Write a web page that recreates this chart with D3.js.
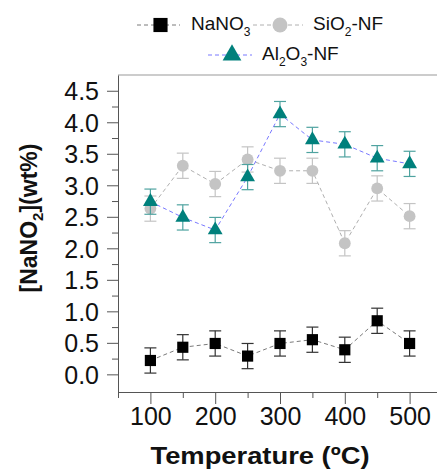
<!DOCTYPE html>
<html>
<head>
<meta charset="utf-8">
<script src="https://cdn.jsdelivr.net/npm/d3@7"></script>
<style>
    body { margin: 0; background: #fff; }
    svg { display: block; font-family: Arial, "Liberation Sans", sans-serif; }
    .axis text { font-size: 25px; fill: #111; }
    .axis path, .axis line { stroke: #555; }
</style>
</head>
<body>
<svg id="chart" width="437" height="470"></svg>
<script>
/*------------------- data --------------------*/
const temperatures = [100, 150, 200, 250, 300, 350, 400, 450, 500];
const nano3 = [0.22, 0.43, 0.49, 0.29, 0.49, 0.55, 0.39, 0.85, 0.49];
const sio2 = [2.63, 3.31, 3.02, 3.41, 3.23, 3.23, 2.08, 2.95, 2.51];
const al2o3 = [2.74, 2.49, 2.29, 3.13, 4.13, 3.72, 3.65, 3.43, 3.34];
const errNano3 = [0.2, 0.2, 0.2, 0.2, 0.2, 0.2, 0.2, 0.2, 0.2];
const errSio2 = [0.2, 0.2, 0.2, 0.2, 0.2, 0.2, 0.2, 0.2, 0.2];
const errAl2o3 = [0.2, 0.2, 0.2, 0.2, 0.2, 0.2, 0.2, 0.2, 0.2];

const xTicks = [100, 200, 300, 400, 500];
const xMinor = [50, 150, 250, 350, 450];
const yTicks = [0, 0.5, 1, 1.5, 2, 2.5, 3, 3.5, 4, 4.5];
const yMinor = [0.25, 0.75, 1.25, 1.75, 2.25, 2.75, 3.25, 3.75, 4.25];

/*------------------- setup --------------------*/
const svg = d3.select("#chart");

const x = d3.scaleLinear().domain([50, 550]).range([118, 442]);
const y = d3.scaleLinear().domain([-0.28, 4.75]).range([392, 75]);

const series = [
    { name: "NaNO3", values: nano3, err: errNano3, shape: d3.symbolSquare, size: 125, fill: "#000",
      line: "#7a7a7a", errColor: "#333" },
    { name: "SiO2", values: sio2, err: errSio2, shape: d3.symbolCircle, size: 110, fill: "#c4c4c4",
      line: "#b0b0b0", errColor: "#c4c4c4" },
    { name: "Al2O3", values: al2o3, err: errAl2o3, shape: d3.symbolTriangle, size: 95, fill: "#00807c",
      line: "#7878ff", errColor: "#4fa3a0" }
];

// frame top line
svg.append("line")
    .attr("x1", x(50)).attr("x2", x(550))
    .attr("y1", y(4.75)).attr("y2", y(4.75))
    .attr("stroke", "#999").attr("stroke-width", 1);

// minor ticks first
svg.append("g")
    .attr("class", "axis")
    .attr("transform", "translate(0," + y(-0.28) + ")")
    .call(d3.axisBottom(x).tickValues(xMinor).tickSize(6).tickFormat(""))
    .call(g => g.select(".domain").remove());

svg.append("g")
    .attr("class", "axis")
    .attr("transform", "translate(" + x(50) + ",0)")
    .call(d3.axisLeft(y).tickValues(yMinor).tickSize(6).tickFormat(""))
    .call(g => g.select(".domain").remove());

svg.append("g")
    .attr("class", "axis")
    .attr("transform", "translate(0," + y(-0.28) + ")")
    .call(d3.axisBottom(x).tickValues(xTicks).tickSize(12).tickSizeOuter(0).tickPadding(3));

svg.append("g")
    .attr("class", "axis")
    .attr("transform", "translate(" + x(50) + ",0)")
    .call(d3.axisLeft(y).tickValues(yTicks).tickSize(11).tickSizeOuter(0).tickPadding(8)
        .tickFormat(d3.format(".1f")))
    .call(g => g.selectAll("text").attr("dy", "0.36em"));

/*------------------- marks --------------------*/
series.forEach(s => {
    const pts = temperatures.map((t, i) => ({ t: t, v: s.values[i], e: s.err[i] }));

    svg.append("path")
        .datum(pts)
        .attr("fill", "none")
        .attr("stroke", s.line)
        .attr("stroke-width", 1)
        .attr("stroke-dasharray", "4,3")
        .attr("d", d3.line().x(d => x(d.t)).y(d => y(d.v)));

    const eb = svg.append("g").attr("stroke", s.errColor).attr("stroke-width", 1.2);
    eb.selectAll("line.v").data(pts).enter().append("line")
        .attr("x1", d => x(d.t)).attr("x2", d => x(d.t))
        .attr("y1", d => y(d.v + d.e)).attr("y2", d => y(d.v - d.e));
    eb.selectAll("line.top").data(pts).enter().append("line")
        .attr("x1", d => x(d.t) - 6).attr("x2", d => x(d.t) + 6)
        .attr("y1", d => y(d.v + d.e)).attr("y2", d => y(d.v + d.e));
    eb.selectAll("line.bot").data(pts).enter().append("line")
        .attr("x1", d => x(d.t) - 6).attr("x2", d => x(d.t) + 6)
        .attr("y1", d => y(d.v - d.e)).attr("y2", d => y(d.v - d.e));

    svg.selectAll(null).data(pts).enter().append("path")
        .attr("d", d3.symbol().type(s.shape).size(s.size))
        .attr("transform", d => "translate(" + x(d.t) + "," + y(d.v) + ")")
        .attr("fill", s.fill);
});

/*------------------- legend --------------------*/
const legend = [
    { s: series[0], x0: 137, x1: 180, y: 25, tx: 191, label: ["NaNO", "3", ""] },
    { s: series[1], x0: 253, x1: 303, y: 25, tx: 313, label: ["SiO", "2", "-NF"] },
    { s: series[2], x0: 208, x1: 252, y: 55, tx: 262, label: ["Al", "2", "O", "3", "-NF"] }
];
legend.forEach(l => {
    svg.append("line")
        .attr("x1", l.x0).attr("x2", l.x1).attr("y1", l.y).attr("y2", l.y)
        .attr("stroke", l.s.line).attr("stroke-dasharray", "4,3");
    svg.append("path")
        .attr("d", d3.symbol().type(l.s.shape).size(l.s.size * 1.6))
        .attr("transform", "translate(" + ((l.x0 + l.x1) / 2 + 2) + "," + l.y + ")")
        .attr("fill", l.s.fill);
    const t = svg.append("text")
        .attr("x", l.tx).attr("y", l.y + 4.5)
        .attr("font-size", 19).attr("fill", "#111");
    l.label.forEach((part, i) => {
        const sub = i % 2 === 1;
        t.append("tspan")
            .attr("font-size", sub ? 12 : 19)
            .attr("dy", sub ? 6 : (i > 0 ? -6 : 0))
            .text(part);
    });
});

/*------------------- titles --------------------*/
svg.append("text")
    .attr("x", 260).attr("y", 464)
    .attr("text-anchor", "middle")
    .attr("font-size", 24).attr("font-weight", "bold").attr("fill", "#111")
    .attr("textLength", 219).attr("lengthAdjust", "spacingAndGlyphs")
    .text("Temperature (ºC)");

const yl = svg.append("text")
    .attr("transform", "translate(37,218) rotate(-90)")
    .attr("text-anchor", "middle")
    .attr("font-size", 23).attr("font-weight", "bold").attr("fill", "#111");
yl.append("tspan").text("[NaNO");
yl.append("tspan").attr("font-size", 15).attr("dy", 6).text("2");
yl.append("tspan").attr("dy", -6).text("](wt%)");
</script>
</body>
</html>
